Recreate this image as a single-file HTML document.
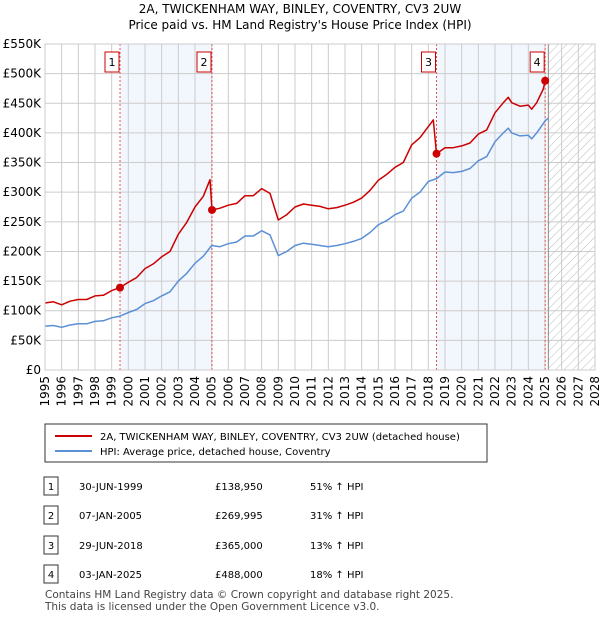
<!DOCTYPE html>
<html><head><meta charset="utf-8"><style>
body{margin:0;background:#fff;font-family:"Liberation Sans","DejaVu Sans",sans-serif;color:#222}
svg text{font-family:"DejaVu Sans","Liberation Sans",sans-serif}
</style></head><body>
<svg id="c" width="600" height="620" xmlns="http://www.w3.org/2000/svg">
<text x="300" y="13" text-anchor="middle" font-size="12">2A, TWICKENHAM WAY, BINLEY, COVENTRY, CV3 2UW</text>
<text x="300" y="29" text-anchor="middle" font-size="12">Price paid vs. HM Land Registry's House Price Index (HPI)</text>
<defs><pattern id="h" width="6" height="6" patternUnits="userSpaceOnUse" patternTransform="rotate(45)"><line x1="0" y1="0" x2="0" y2="6" stroke="#bbb" stroke-width="1"/></pattern></defs>
<g id="plot"></g>
<rect x="45" y="424" width="442" height="38" fill="#fff" stroke="#333"/>
<line x1="55" y1="436" x2="92" y2="436" stroke="#cc0000" stroke-width="2"/>
<text x="100" y="440" font-size="10">2A, TWICKENHAM WAY, BINLEY, COVENTRY, CV3 2UW (detached house)</text>
<line x1="55" y1="451" x2="92" y2="451" stroke="#5b8fd6" stroke-width="2"/>
<text x="100" y="455" font-size="10">HPI: Average price, detached house, Coventry</text>
<g id="tbl" font-size="10"></g>
<text x="45" y="598" font-size="10.5" fill="#444">Contains HM Land Registry data © Crown copyright and database right 2025.</text>
<text x="45" y="610" font-size="10.5" fill="#444">This data is licensed under the Open Government Licence v3.0.</text>
</svg>
<script>
const hpiDates=[1995,1995.5,1996,1996.5,1997,1997.5,1998,1998.5,1999,1999.5,2000,2000.5,2001,2001.5,2002,2002.5,2003,2003.5,2004,2004.5,2005,2005.5,2006,2006.5,2007,2007.5,2008,2008.5,2009,2009.5,2010,2010.5,2011,2011.5,2012,2012.5,2013,2013.5,2014,2014.5,2015,2015.5,2016,2016.5,2017,2017.5,2018,2018.5,2019,2019.5,2020,2020.5,2021,2021.5,2022,2022.5,2022.8,2023,2023.5,2024,2024.2,2024.5,2025,2025.2];
const hpiValues=[74,75,72,76,78,78,82,83,88,91,97,102,112,117,125,132,150,163,180,192,210,208,213,216,226,226,235,228,193,200,210,214,212,210,208,210,213,217,222,232,245,252,262,268,290,300,318,323,334,333,335,340,353,360,385,400,408,400,395,396,390,400,420,425];
const redDates=[1995,1995.5,1996,1996.5,1997,1997.5,1998,1998.5,1999,1999.5,2000,2000.5,2001,2001.5,2002,2002.5,2003,2003.5,2004,2004.5,2004.9,2005.02,2005.5,2006,2006.5,2007,2007.5,2008,2008.5,2009,2009.5,2010,2010.5,2011,2011.5,2012,2012.5,2013,2013.5,2014,2014.5,2015,2015.5,2016,2016.5,2017,2017.5,2018.3,2018.49,2019,2019.5,2020,2020.5,2021,2021.5,2022,2022.5,2022.8,2023,2023.5,2024,2024.2,2024.5,2024.9,2025.01,2025.1];
const redValues=[113,115,110,116,119,119,125,126,134,139,148,156,171,179,191,200,229,249,275,293,321,270,273,278,281,294,294,306,298,253,262,275,280,278,276,272,274,278,283,290,303,320,330,342,350,380,392,422,365,375,375,378,383,398,405,434,451,460,451,445,447,440,451,474,488,487];
const saleLabels=["1","2","3","4"];
const saleDates=[1999.5,2005.02,2018.49,2025.01];
const salePrices=[138950,269995,365000,488000];
const saleDateText=["30-JUN-1999","07-JAN-2005","29-JUN-2018","03-JAN-2025"];
const salePriceText=["£138,950","£269,995","£365,000","£488,000"];
const saleHpiText=["51% ↑ HPI","31% ↑ HPI","13% ↑ HPI","18% ↑ HPI"];
const yTicks=[0,50,100,150,200,250,300,350,400,450,500,550];
const yTickLabels=["£0","£50K","£100K","£150K","£200K","£250K","£300K","£350K","£400K","£450K","£500K","£550K"];
const xYears=[];for(let y=1995;y<=2028;y++)xYears.push(y);

const X0=45,X1=595,Y0=370,Y1=44;
const xs=d=>X0+(d-1995)/(2028-1995)*(X1-X0);
const ys=v=>Y0-v/550*(Y0-Y1);
const NS="http://www.w3.org/2000/svg";
const plot=document.getElementById('plot');
function mk(tag,attrs,parent){const e=document.createElementNS(NS,tag);for(const k in attrs)e.setAttribute(k,attrs[k]);(parent||plot).appendChild(e);return e;}

let e;
e=mk('rect',{x:xs(saleDates[0]),y:Y1,width:xs(saleDates[1])-xs(saleDates[0]),height:Y0-Y1,fill:'#f2f6fd'});


e=mk('rect',{x:xs(saleDates[2]),y:Y1,width:xs(saleDates[3])-xs(saleDates[2]),height:Y0-Y1,fill:'#f2f6fd'});


e=mk('rect',{x:xs(2025.2),y:Y1,width:X1-xs(2025.2),height:Y0-Y1,fill:'url(#h)'});



yTicks.forEach((t,i)=>{
 e=mk('line',{x1:X0,x2:X1,y1:ys(t),y2:ys(t),stroke:'#ccc','stroke-width':1});
 
 
 e=mk('text',{x:X0-4,y:ys(t)+4,'text-anchor':'end','font-size':12});
 e.textContent=yTickLabels[i];
 
 
});
xYears.forEach(y=>{
 e=mk('line',{x1:xs(y),x2:xs(y),y1:Y1,y2:Y0,stroke:'#ccc','stroke-width':1});
 
 
 e=mk('text',{x:0,y:0,'text-anchor':'end','font-size':12,transform:`translate(${xs(y)+4},${Y0+6}) rotate(-90)`});
 e.textContent=y;
 
 
});
e=mk('line',{x1:xs(2025.2),x2:xs(2025.2),y1:Y1,y2:Y0,stroke:'#888','stroke-width':1});


saleDates.forEach((d,i)=>{
 e=mk('line',{x1:xs(d),x2:xs(d),y1:Y1,y2:Y0,stroke:'#e05555','stroke-width':1,'stroke-dasharray':'2,2'});
 
 
});
function path(ds,vs,col,name){
 const d=ds.map((t,i)=>(i?'L':'M')+xs(t).toFixed(1)+','+ys(vs[i]).toFixed(1)).join('');
 e=mk('path',{d:d,fill:'none',stroke:col,'stroke-width':1.5,'stroke-linejoin':'round'});
 
 
}
path(hpiDates,hpiValues,'#5b8fd6','hpi-line');
path(redDates,redValues,'#cc0000','property-price-line');
saleDates.forEach((d,i)=>{
 e=mk('circle',{cx:xs(d),cy:ys(salePrices[i]/1000),r:4,fill:'#cc0000'});
 
 
 const bx=xs(d)-8;
 e=mk('rect',{x:bx-7,y:52,width:14,height:20,fill:'#fff',stroke:'#cc0000'});
 
 
 e=mk('text',{x:bx,y:66,'text-anchor':'middle','font-size':11});
 e.textContent=saleLabels[i];
 
 
});
e=mk('rect',{x:X0,y:Y1,width:X1-X0,height:Y0-Y1,fill:'none',stroke:'#ccc'});



const tbl=document.getElementById('tbl');
const rowY=[486,515,545,574];
saleLabels.forEach((l,i)=>{
 const y=rowY[i];
 e=mk('rect',{x:44,y:y-9,width:14,height:18,fill:'#fff',stroke:'#333'},tbl);
 
 
 e=mk('text',{x:51,y:y+4,'text-anchor':'middle'},tbl);e.textContent=l;
 
 
 e=mk('text',{x:79,y:y+4},tbl);e.textContent=saleDateText[i];
 
 
 e=mk('text',{x:215,y:y+4},tbl);e.textContent=salePriceText[i];
 
 
 e=mk('text',{x:310,y:y+4},tbl);e.textContent=saleHpiText[i];
 
 
});
</script>
</body></html>
